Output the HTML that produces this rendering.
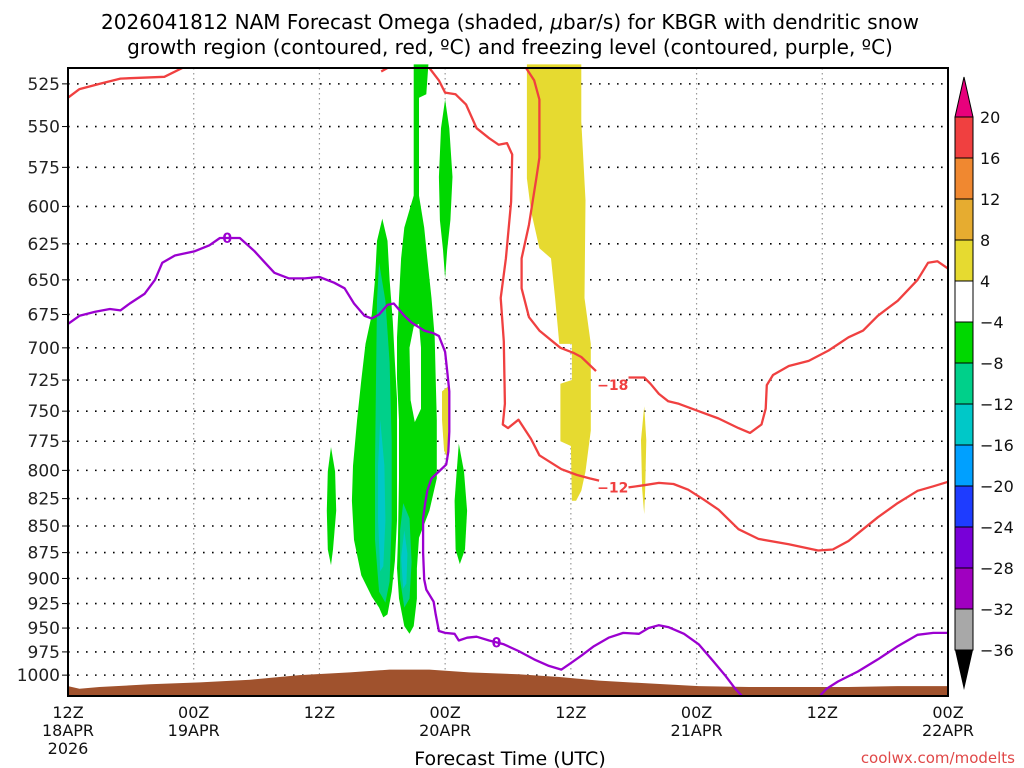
<!DOCTYPE html>
<html><head><meta charset="utf-8"><style>
body{margin:0;background:#fff;}
svg{display:block;font-family:"DejaVu Sans","Liberation Sans",sans-serif;}
</style></head><body>
<svg id="chart" width="1024" height="768" viewBox="0 0 1024 768" xmlns="http://www.w3.org/2000/svg">
<text x="510" y="29" font-size="20" text-anchor="middle">2026041812 NAM Forecast Omega (shaded, <tspan font-style="italic">μ</tspan>bar/s) for KBGR with dendritic snow</text>
<text x="510" y="54" font-size="20" text-anchor="middle">growth region (contoured, red, ºC) and freezing level (contoured, purple, ºC)</text>
<g id="grid"></g>
<g id="shade"></g>
<g id="lines"></g>
<g id="axes"></g>
<g id="cbar"></g>
<text x="510" y="765" font-size="19" text-anchor="middle">Forecast Time (UTC)</text>
<text x="1015" y="763" font-size="15" fill="#e04848" text-anchor="end">coolwx.com/modelts</text>
</svg>
<script>
const pLevels=[525,550,575,600,625,650,675,700,725,750,775,800,825,850,875,900,925,950,975,1000];
const xTickHours=[0,12,24,36,48,60,72,84];
const xTickLine1=["12Z","00Z","12Z","00Z","12Z","00Z","12Z","00Z"];
const xTickLine2=["18APR","19APR","","20APR","","21APR","","22APR"];
const xTickLine3=["2026","","","","","","",""];
const cbarLevels=[20,16,12,8,4,-4,-8,-12,-16,-20,-24,-28,-32,-36];
const cbarColors=["#f04040","#f08830","#e6ac30","#e6da30","#ffffff","#00d800","#00d08a","#00c8c8","#00a0ff","#1e3cff","#7800d8","#a000c0","#a8a8a8"];
const terrainHours=[0,1.1,3,7.8,12.6,17.4,22.1,26.9,30.7,34.5,38.3,43.0,46.9,50.7,55.4,60.2,65,69.7,74.5,79.2,84];
const terrainP=[1012,1015,1013,1010,1008,1005,1000,997,994,994,997,999,1002,1006,1009,1012,1013,1013,1013,1012,1012];
const freezeA=[[0,682],[1.1,676],[2.6,673],[4,671],[5,672],[5.9,667],[7.3,660],[8.3,650],[9,638],[10.2,633],[12.1,630],[13.5,626],[14.5,621],[15.6,621],[16.4,621],[17.8,630],[18.8,638],[19.7,645],[21.1,649],[22.6,649],[24,648],[25.4,652],[26.4,656],[27.3,667],[28.3,676],[29,678],[29.7,675],[30.5,668],[31.1,667],[32.1,676],[32.8,681],[34,687],[34.9,689],[35.4,691],[36,703],[36.2,718],[36.4,734],[36.4,767],[36.3,784],[36.1,795],[35.4,801],[34.7,807],[34.3,818],[34.1,829],[33.9,843],[33.9,875],[34,901],[34.2,911],[34.9,923],[35.1,936],[35.4,953],[36,955],[36.9,956],[37.3,963],[38.1,960],[39,959],[40.2,963],[41.6,967],[43,974],[44.5,983],[45.9,990],[47.1,994],[48,987],[49,979],[50.2,969],[51.6,960],[53,955],[54.5,956],[55.4,950],[56.4,947],[57.3,949],[58.8,956],[60.2,967],[61.6,985],[62.7,1000],[63.7,1015],[64.5,1025]];
const freezeB=[[71.6,1025],[72.4,1015],[73.5,1007],[75.4,996],[77.3,983],[79.2,969],[81.1,957],[82.6,955],[84,955]];
const redTopLeft=[[0,533],[1.1,528],[3,525],[5,522],[9.2,521],[11.6,514]];
const redTopBit=[[29.9,518],[31.1,514]];
const redM12=[[32.6,514],[34.5,516],[35.4,523],[36,530],[37,531],[38,537],[39,551],[40.2,557],[41.1,561],[41.9,560],[42.4,567],[42.3,597],[41.8,635],[41.3,663],[41.6,695],[41.7,744],[41.5,761],[42,764],[43,757],[44.2,773],[45,787],[47.1,799],[48.6,804],[49.8,807],[50.7,809]];
const redM12b=[[53.5,815],[55,813],[56.4,811],[57.8,812],[59.2,817],[60.7,826],[62.1,835],[64,853],[65.9,862],[68.8,867],[71.6,873],[73,872],[74.5,864],[75.9,853],[77.3,842],[79.2,829],[81.1,818],[82.6,814],[84,810]];
const redM18=[[43.5,514],[44.5,523],[45,534],[45,569],[44.7,582],[44,612],[43.3,635],[43.3,656],[44,677],[45,687],[47,700],[48.3,704],[49,707],[50.4,718]];
const redM18b=[[53.5,723],[55,723],[55.6,728],[56.4,736],[57.3,742],[58.3,744],[60.2,750],[62.1,756],[64,764],[65.1,768],[66.2,761],[66.6,748],[66.7,729],[67.3,721],[68.8,714],[70.7,710],[72.6,702],[74.5,692],[75.9,687],[77.3,676],[79.2,665],[81.1,650],[82.1,638],[83,637],[84,642]];
const greenA=[[33,514],[33,593],[32.1,614],[31.8,635],[31.6,663],[31.4,692],[31.4,724],[31.6,757],[31.6,807],[31.5,861],[31.4,890],[31.6,920],[32.1,948],[32.6,956],[33,948],[33.3,920],[33.3,890],[33.5,861],[34.5,836],[35.2,807],[35.2,757],[35.1,724],[35,692],[34.7,663],[34.3,635],[34,614],[33.5,593],[33.5,533],[34.2,531],[34.4,514]];
const holeA=[[33,684],[33.5,682],[33.7,700],[33.7,748],[33.1,759],[32.7,741],[32.6,700]];
const tealA=[[32,829],[32.6,843],[32.8,884],[32.6,920],[32.1,929],[31.7,901],[31.7,854]];
const cyanA=[[32.1,854],[32.4,876],[32.3,905],[32,910],[31.8,880]];
const greenB=[[30,608],[30.5,623],[30.7,650],[31,680],[31.2,711],[31.4,740],[31.4,796],[31.4,845],[31.2,883],[30.9,913],[30.5,936],[30.1,939],[29.7,929],[29,918],[28,897],[27.3,863],[27.1,827],[27.2,796],[27.6,757],[28,725],[28.4,697],[29,675],[29.3,650],[29.5,623]];
const tealB=[[29.7,638],[30.3,665],[30.7,711],[30.9,775],[30.9,845],[30.7,903],[30.3,924],[29.7,913],[29.3,863],[29.3,796],[29.4,725],[29.5,665]];
const cyanB=[[29.8,757],[30.2,796],[30.3,845],[30.1,888],[29.8,893],[29.6,845],[29.6,796]];
const greenC=[[36,534],[36.4,551],[36.7,581],[36.5,609],[36.2,629],[36,649],[35.8,629],[35.5,609],[35.4,581],[35.6,551]];
const greenD=[[25.1,780],[25.5,801],[25.6,836],[25.3,872],[25.1,887],[24.8,872],[24.7,836],[24.8,801]];
const greenE=[[37.3,777],[37.8,801],[38.1,836],[37.9,872],[37.4,886],[37,872],[36.9,827],[37.1,801]];
const yellowS1=[[35.7,734],[36.3,730],[36.3,791],[35.9,783],[35.7,757]];
const yellowBig=[[43.8,514],[43.8,582],[44.2,603],[45,628],[46.1,635],[46.5,663],[46.9,697],[48.1,697],[48.1,725],[47,728],[47,775],[48,779],[48.1,827],[48.5,827],[49,818],[49.4,801],[49.9,766],[49.9,697],[49.3,663],[49.4,596],[49,547],[49,514]];
const yellowS2=[[55,746],[55.2,774],[55.1,816],[55,839],[54.8,816],[54.7,774]];
const contourLabels=[["0",15.2,621,"#9b00d0"],["0",40.9,965,"#9b00d0"],["−18",52,729,"#f04040"],["−12",52,815,"#f04040"]];

const X0=68,X1=948,Y0=68,Y1=696,H0=0,H1=84,PT=516,PB=1023;
const lT=Math.log(PT),lB=Math.log(PB);
function xs(h){return X0+(h-H0)/(H1-H0)*(X1-X0);}
function ys(p){return Y0+(Math.log(p)-lT)/(lB-lT)*(Y1-Y0);}
const NS="http://www.w3.org/2000/svg";
function mk(tag,attrs,parent){const e=document.createElementNS(NS,tag);for(const k in attrs)e.setAttribute(k,attrs[k]);parent.appendChild(e);return e;}
function pts(arr){return arr.map(d=>xs(d[0]).toFixed(1)+","+ys(d[1]).toFixed(1)).join(" ");}
const grid=document.getElementById("grid"),shade=document.getElementById("shade"),lines=document.getElementById("lines"),axes=document.getElementById("axes"),cbar=document.getElementById("cbar");

pLevels.forEach(p=>{
  const l=mk("line",{x1:X0,x2:X1,y1:ys(p),y2:ys(p),stroke:"#000","stroke-width":1.6,"stroke-dasharray":"1.6,7.4"},grid);
  
  
});
xTickHours.forEach(h=>{
  const l=mk("line",{x1:xs(h),x2:xs(h),y1:Y0,y2:Y1,stroke:"#999","stroke-width":1.2,"stroke-dasharray":"1.5,3.5"},grid);
  
  
});

function poly(arr,fill,name){
  const e=mk("polygon",{points:pts(arr),fill:fill},shade);
  
  
}
const tp=terrainHours.map((h,i)=>[h,terrainP[i]]);
const terr=mk("polygon",{points:pts(tp)+" "+xs(84)+","+Y1+" "+xs(0)+","+Y1,fill:"#a0522d"},shade);


poly(yellowBig,"#e6da30","omega-positive-region-big");
poly(yellowS2,"#e6da30","omega-positive-region-small-2");
poly(greenA,"#00d800","omega-region-a");
poly(holeA,"#ffffff","omega-region-a-hole");
poly(tealA,"#00d08a","omega-region-a-core");
poly(cyanA,"#00c8c8","omega-region-a-max");
poly(greenB,"#00d800","omega-region-b");
poly(tealB,"#00d08a","omega-region-b-core");
poly(cyanB,"#00c8c8","omega-region-b-max");
poly(greenC,"#00d800","omega-region-c");
poly(greenD,"#00d800","omega-region-d");
poly(greenE,"#00d800","omega-region-e");
poly(yellowS1,"#e6da30","omega-positive-region-small-1");

function line(arr,col,name){
  const e=mk("polyline",{points:pts(arr),fill:"none",stroke:col,"stroke-width":2.3,"stroke-linejoin":"round"},lines);
  
  
}
const clip=mk("clipPath",{id:"pc"},lines);mk("rect",{x:X0,y:Y0,width:X1-X0,height:Y1-Y0},clip);
lines.setAttribute("clip-path","url(#pc)");
line(redTopLeft,"#f04040","dgz-contour-top-left");
line(redTopBit,"#f04040","dgz-contour-top-bit");
line(redM12,"#f04040","dgz-contour-minus12");
line(redM12b,"#f04040","dgz-contour-minus12-east");
line(redM18,"#f04040","dgz-contour-minus18");
line(redM18b,"#f04040","dgz-contour-minus18-east");
line(freezeA,"#9b00d0","freezing-level-0c");
line(freezeB,"#9b00d0","freezing-level-0c-east");
contourLabels.forEach(c=>{
  const t=mk("text",{x:xs(c[1]),y:ys(c[2])+5,"font-size":14,"font-weight":"bold",fill:c[3],"text-anchor":"middle"},lines);
  t.textContent=c[0];
  
  
});

const fr=mk("rect",{x:X0,y:Y0,width:X1-X0,height:Y1-Y0,fill:"none",stroke:"#000","stroke-width":2},axes);


pLevels.forEach(p=>{
  mk("line",{x1:X0-6,x2:X0,y1:ys(p),y2:ys(p),stroke:"#000","stroke-width":1},axes);
  const t=mk("text",{x:X0-8,y:ys(p)+6,"font-size":17,"text-anchor":"end",fill:"#222"},axes);
  t.textContent=p;
  
  
});
xTickHours.forEach((h,i)=>{
  [xTickLine1[i],xTickLine2[i],xTickLine3[i]].forEach((s,j)=>{
    if(!s)return;
    const t=mk("text",{x:xs(h),y:Y1+22+j*18,"font-size":16,"text-anchor":"middle",fill:"#111"},axes);
    t.textContent=s;
    
    
  });
});

const CX=955,CW=18,CT=117,CB=650,step=(CB-CT)/(cbarLevels.length-1);
cbarColors.forEach((c,i)=>{
  const r=mk("rect",{x:CX,y:CT+i*step,width:CW,height:step,fill:c,stroke:"#000","stroke-width":1},cbar);
  
  
});
const tu=mk("polygon",{points:`${CX},${CT} ${CX+CW},${CT} ${CX+CW/2},${CT-40}`,fill:"#e8007c",stroke:"#000","stroke-width":1},cbar);


const td=mk("polygon",{points:`${CX},${CB} ${CX+CW},${CB} ${CX+CW/2},${CB+40}`,fill:"#000"},cbar);


cbarLevels.forEach((v,i)=>{
  const t=mk("text",{x:CX+CW+7,y:CT+i*step+6,"font-size":16,fill:"#111"},cbar);
  t.textContent=v<0?"−"+(-v):v;
  
  
});
</script>
</body></html>
